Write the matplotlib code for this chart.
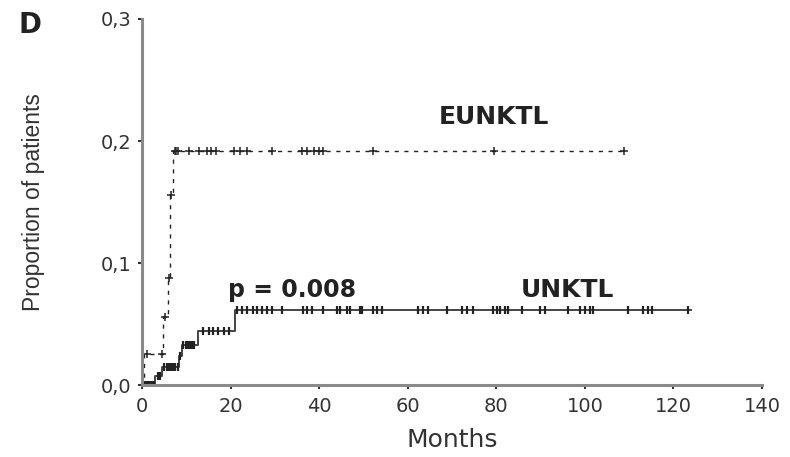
import numpy as np
import matplotlib
matplotlib.use("Agg")
import matplotlib.pyplot as plt

# ---- data ----
eu_times = [0, 0.5, 4.8, 5.8, 6.2, 6.9, 109.5]
eu_surv = [0, 0.026, 0.056, 0.088, 0.156, 0.192, 0.192]
eu_censor = [1.0, 4.4, 5.2, 6.0, 6.5, 7.3, 7.7, 8.1, 10.5, 12.9, 14.6, 15.6, 16.7,
             20.8, 22.1, 23.6, 29.3, 36.0, 37.2, 38.7, 40.0, 40.8, 52.2, 79.5, 108.9]

un_times = [0, 3.0, 4.5, 8.3, 8.9, 12.5, 20.9, 124.0]
un_surv = [0, 0.0075, 0.0154, 0.024, 0.033, 0.045, 0.062, 0.062]
un_censor = [0.3, 0.7, 1.1, 1.5, 1.9, 2.3, 2.7, 3.5, 4.0, 5.0, 5.5, 6.0, 6.5, 7.0, 7.5,
             8.0, 8.6, 9.3, 9.8, 10.3, 10.8, 11.3, 11.8, 13.8, 15.0, 16.1, 17.2, 18.4,
             19.5, 21.4, 22.5, 23.6, 25.1, 25.9, 27.0, 28.1, 29.3, 31.5, 36.4, 37.2,
             38.3, 40.9, 43.9, 44.7, 46.2, 47.0, 49.2, 49.6, 52.2, 53.0, 54.1, 62.4,
             63.5, 64.6, 68.8, 72.2, 73.3, 74.8, 79.3, 80.1, 80.8, 81.9, 82.7, 85.7,
             89.8, 91.0, 96.2, 98.9, 100.0, 101.1, 101.9, 109.8, 113.2, 114.3, 115.1,
             123.3]

x_ticks = [0, 20, 40, 60, 80, 100, 120, 140]
y_ticks = [0.0, 0.1, 0.2, 0.3]
y_ticklabels = ["0,0", "0,1", "0,2", "0,3"]


def step_value(times, surv, t):
    idx = np.searchsorted(times, t, side="right") - 1
    return np.asarray(surv)[idx]


fig = plt.figure(figsize=(7.9, 4.57), dpi=100)
ax = fig.add_axes([0.18, 0.1565, 0.7846, 0.8020])

# EUNKTL
ax.step(eu_times, eu_surv, where="post", color="#222222", lw=1.0,
        linestyle=(0, (3, 4)))
ax.plot(eu_censor, step_value(eu_times, eu_surv, eu_censor), linestyle="none",
        marker="+", color="#222222", ms=5.5, mew=1.1)

# UNKTL
ax.step(un_times, un_surv, where="post", color="#444444", lw=1.4)
ax.plot(un_censor, step_value(un_times, un_surv, un_censor), linestyle="none",
        marker="|", color="#222222", ms=6, mew=1.6)

ax.set_xlim(0, 140)
ax.set_ylim(0, 0.3)
for s in ["top", "right"]:
    ax.spines[s].set_visible(False)
for s in ["left", "bottom"]:
    ax.spines[s].set_color("#8a8a8a")
    ax.spines[s].set_linewidth(2.2)

ax.set_xticks(x_ticks)
ax.set_yticks(y_ticks)
ax.set_yticklabels(y_ticklabels)
ax.tick_params(direction="out", length=3, width=1.5, color="#333333",
               labelsize=14, labelcolor="#333333", pad=5)

narrow = ["Liberation Sans Narrow", "DejaVu Sans Condensed", "Liberation Sans",
          "DejaVu Sans"]
ax.set_xlabel("Months", fontsize=18, color="#333333", labelpad=9)
ax.set_ylabel("Proportion of patients", fontsize=16.5, color="#333333",
              family=narrow, labelpad=40)

ax.text(79.5, 0.2195, "EUNKTL", fontsize=18, fontweight="bold", color="#222222",
        ha="center", va="center")
ax.text(96.0, 0.078, "UNKTL", fontsize=18, fontweight="bold", color="#222222",
        ha="center", va="center")
ax.text(33.9, 0.078, "p = 0.008", fontsize=17, fontweight="bold", color="#222222",
        ha="center", va="center")
fig.text(0.024, 0.975, "D", fontsize=20, fontweight="bold", color="#222222",
         ha="left", va="top")

fig.savefig("out.png", dpi=100)
